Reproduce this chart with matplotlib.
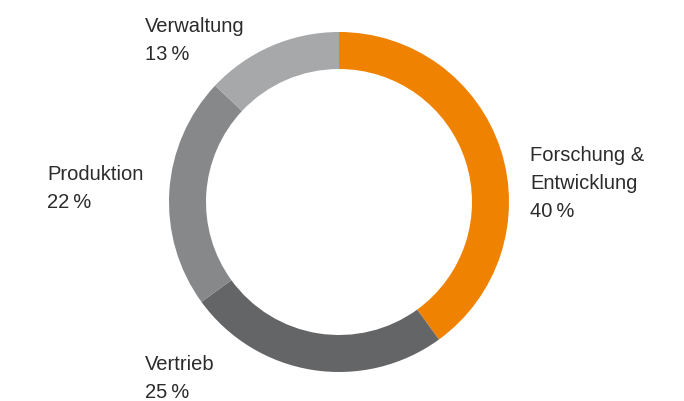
"""Ringdiagramm: Aufteilung nach Funktionsbereichen."""

import matplotlib
matplotlib.use("Agg")
import matplotlib.pyplot as plt

BEREICHE = ["Forschung &\nEntwicklung", "Vertrieb", "Produktion", "Verwaltung"]
ANTEILE = [40, 25, 22, 13]
FARBEN = ["#EF8200", "#646567", "#87888A", "#A7A8AA"]

W, H = 684, 401
CENTER = (339, H - 202)
RADIUS = 170
RING = 37
# Textanker (x, Grundlinie der ersten Zeile) in Pixeln von oben links
LABEL_POS = [(530, 161), (145, 370), (47, 180), (145, 32)]
PITCH = 28
FONT = 14.5
TEXT_COLOR = "#2b2b2b"

plt.rcParams["font.family"] = ["Liberation Sans", "DejaVu Sans"]


def draw():
    fig = plt.figure(figsize=(W / 100, H / 100), dpi=100, facecolor="white")
    ax = fig.add_axes([0, 0, 1, 1])

    ax.pie(ANTEILE, colors=FARBEN, startangle=90, counterclock=False,
           center=CENTER, radius=RADIUS,
           wedgeprops=dict(width=RING, linewidth=0), frame=True)
    ax.set_xlim(0, W)
    ax.set_ylim(0, H)
    ax.axis("off")

    for name, wert, (x, y) in zip(BEREICHE, ANTEILE, LABEL_POS):
        zeilen = name.split("\n") + [f"{wert}\u2009%"]
        for k, zeile in enumerate(zeilen):
            ax.text(x, H - (y + k * PITCH), zeile, ha="left", va="baseline",
                    fontsize=FONT, color=TEXT_COLOR)

    fig.savefig("out.png", dpi=100, facecolor="white")


if __name__ == "__main__":
    draw()
